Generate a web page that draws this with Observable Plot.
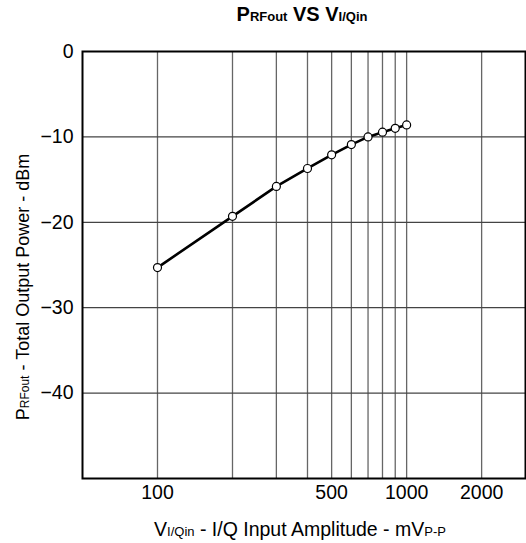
<!DOCTYPE html>
<html>
<head>
<meta charset="utf-8">
<script src="https://cdn.jsdelivr.net/npm/d3@7"></script>
<script src="https://cdn.jsdelivr.net/npm/@observablehq/plot@0.6"></script>
<style>
  body { margin: 0; background: #fff; font-family: "Liberation Sans", Arial, Helvetica, sans-serif; }
  #title { height: 33px; width: 526px; position: relative; }
  #title div { position: absolute; left: 0; width: 604px; text-align: center; top: 3px; font-weight: bold; font-size: 20px; line-height: 23px; color: #000; white-space: nowrap; }
  #title .s { font-size: 13px; }
</style>
</head>
<body>
<div id="title"><div>P<span class="s">RFout</span> VS V<span class="s">I/Qin</span></div></div>
<div id="chart"></div>
<script>
const vin = [100, 200, 300, 400, 500, 600, 700, 800, 900, 1000];
const pout = [-25.3, -19.3, -15.8, -13.7, -12.1, -10.9, -10.0, -9.45, -9.0, -8.6];
const gridX = [100, 200, 300, 400, 500, 600, 700, 800, 900, 1000, 2000];
const gridY = [-10, -20, -30, -40];
const xTicks = [100, 500, 1000, 2000];
const yTicks = [0, -10, -20, -30, -40];

const data = vin.map((v, i) => ({v, p: pout[i]}));

const W = 526, H = 510;
const chart = Plot.plot({
  width: W, height: H,
  marginLeft: 82, marginRight: 1, marginTop: 18, marginBottom: 65,
  style: {fontFamily: '"Liberation Sans", Arial, Helvetica, sans-serif', fontSize: "19px", color: "#000", background: "#fff"},
  x: {type: "log", domain: [50, 3000]},
  y: {domain: [-50, 0]},
  marks: [
    Plot.ruleX(gridX, {stroke: "#666", strokeWidth: 1.3}),
    Plot.ruleY(gridY, {stroke: "#444", strokeWidth: 1.2}),
    Plot.frame({stroke: "#000", strokeWidth: 2}),
    Plot.axisX({ticks: xTicks, tickFormat: d => String(d), tickSize: 0, tickPadding: 7, label: null, fontSize: 19.5}),
    Plot.axisY({ticks: yTicks, tickSize: 0, tickPadding: 9, label: null, fontSize: 19.5}),
    Plot.line(data, {x: "v", y: "p", stroke: "#000", strokeWidth: 2.6}),
    Plot.dot(data, {x: "v", y: "p", r: 4, fill: "#fff", stroke: "#000", strokeWidth: 1.2})
  ]
});
document.getElementById("chart").appendChild(chart);

const svg = d3.select(chart);
const ff = '"Liberation Sans", Arial, Helvetica, sans-serif';
const xl = svg.append("text")
  .attr("x", 300).attr("y", 503)
  .attr("text-anchor", "middle")
  .attr("font-family", ff).attr("font-size", 19.5).attr("fill", "#000");
xl.append("tspan").attr("fill", "#000").text("V");
xl.append("tspan").attr("fill", "#000").attr("font-size", 13).text("I/Qin");
xl.append("tspan").attr("fill", "#000").text(" - I/Q Input Amplitude - mV");
xl.append("tspan").attr("fill", "#000").attr("font-size", 13).text("P-P");

const yl = svg.append("text")
  .attr("transform", "translate(29,254) rotate(-90)")
  .attr("text-anchor", "middle")
  .attr("font-family", ff).attr("font-size", 18).attr("fill", "#000");
yl.append("tspan").attr("fill", "#000").text("P");
yl.append("tspan").attr("fill", "#000").attr("font-size", 12).text("RFout");
yl.append("tspan").attr("fill", "#000").text(" - Total Output Power - dBm");
</script>
</body>
</html>
